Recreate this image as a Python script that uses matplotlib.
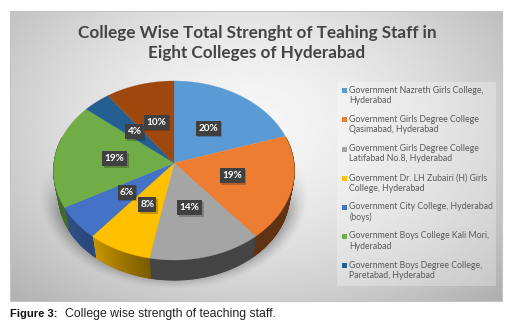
"""
College wise teaching staff pie, drawn as a tilted 3D disc.
Outputs: out.png
"""

import matplotlib
matplotlib.use("Agg")
import matplotlib.pyplot as plt
import numpy as np
from matplotlib.colors import to_rgb
from matplotlib.patches import Rectangle

# ── Data ─────────────────────────────────────────────────────────────────────
SHARES = [20, 19, 14, 8, 6, 19, 4, 10]
COLORS = ["#5b9bd5", "#ed7d31", "#a5a5a5", "#ffc000",
          "#4472c4", "#70ad47", "#255e91", "#9e480e"]
LEGEND_LABELS = [
    "Government Nazreth Girls College,\nHyderabad",
    "Government Girls Degree College\nQasimabad, Hyderabad",
    "Government Girls Degree College\nLatifabad No.8, Hyderabad",
    "Government Dr. LH Zubairi (H) Girls\nCollege, Hyderabad",
    "Government City College, Hyderabad\n(boys)",
    "Government Boys College Kali Mori,\nHyderabad",
    "Government Boys Degree College,\nParetabad, Hyderabad",
]
TITLE = "College Wise Total Strenght of Teahing Staff in\nEight Colleges of Hyderabad"
CAPTION_BOLD = "Figure 3:"
CAPTION = "College wise strength of teaching staff."

# ── Disc projection (pixels of the 510x329 picture) ──────────────────────────
CX, CY = 174, 163
RX, RY, TILT = 120, 88.9, 0.0838


def project(theta, r=1.0, dy=0.0, scale=1.0):
    u, v = r * np.sin(theta), r * np.cos(theta)
    w = 1 + TILT * v
    return CX + scale * RX * u / w, CY + dy - scale * RY * v / w


fig = plt.figure(figsize=(5.10, 3.29), dpi=100)
ax = fig.add_axes([0, 0, 1, 1])
ax.axis("off")

# ── Panel background ─────────────────────────────────────────────────────────
L, R, T, B = 10, 502, 11, 301
xx, yy = np.meshgrid(np.linspace(L, R, 300), np.linspace(T, B, 200))
dist = np.hypot((xx - 250) / 290, (yy - 125) / 210)
ax.imshow(0.965 - 0.21 * dist ** 1.6, extent=[L, R, B, T], cmap="gray",
          vmin=0, vmax=1, aspect="auto", zorder=0, interpolation="bilinear")
ax.add_patch(Rectangle((L, T), R - L, B - T, fill=False, ec="#c4c4c4", lw=0.8, zorder=1))

# ── Soft shadow under the disc ───────────────────────────────────────────────
sx, sy = np.meshgrid(np.linspace(30, 320, 290), np.linspace(150, 288, 138))
edge = np.hypot((sx - 174) / 130, (sy - 194) / 92)
alpha = np.clip((1.04 - edge) / 0.16, 0, 1) ** 1.3 * np.clip((sy - 165) / 50, 0, 1) * 0.36
shadow = np.zeros(sx.shape + (4,))
shadow[..., 3] = alpha
ax.imshow(shadow, extent=[30, 320, 288, 150], aspect="auto", zorder=2, interpolation="bilinear")
ax.set_xlim(0, 510)
ax.set_ylim(329, 0)

# ── Slices ───────────────────────────────────────────────────────────────────
edges = np.radians(np.cumsum([0] + SHARES) * 3.6)
WALL_START = [0.55, 0.40, 0.41, 0.48, 0.62, 0.60, 0.55, 0.55]
WALL_END = [0.55, 0.40, 0.41, 0.78, 0.70, 0.60, 0.55, 0.55]

for i, color in enumerate(COLORS):
    th = np.linspace(edges[i], edges[i + 1], 80)
    base = np.array(to_rgb(color))
    shade = np.linspace(WALL_START[i], WALL_END[i], 79)
    for a, b, s in zip(th[:-1], th[1:], shade):
        if np.cos((a + b) / 2) > 0.3:
            continue
        x0, y0 = project(np.array([a, b]))
        x1, y1 = project(np.array([b, a]), dy=24, scale=0.96)
        tone = base * s
        ax.fill(np.r_[x0, x1], np.r_[y0, y1], fc=tone, ec=tone, lw=0.6, zorder=3)

for i, color in enumerate(COLORS):
    th = np.linspace(edges[i], edges[i + 1], 80)
    x, y = project(th)
    ax.fill(np.r_[CX, x], np.r_[CY, y], color=color, lw=0.2, zorder=4)

# ── Percent labels ───────────────────────────────────────────────────────────
for i, share in enumerate(SHARES):
    mid = (edges[i] + edges[i + 1]) / 2
    lx, ly = project(mid, r=0.5)
    w = 25 if share >= 10 else 18
    ax.add_patch(Rectangle((lx - w / 2 + 1.5, ly - 6), w, 15, fc="black", alpha=0.22, lw=0, zorder=5))
    ax.add_patch(Rectangle((lx - w / 2, ly - 7.5), w, 15, fc="#404040", lw=0, zorder=6))
    ax.text(lx, ly, f"{share}%", color="white", fontsize=7.2, fontweight="bold",
            family="Lato", ha="center", va="center", zorder=7)

# ── Title ────────────────────────────────────────────────────────────────────
ax.text(257, 43, TITLE, color="#444444", fontsize=12.3, fontweight="bold", family="Lato",
        ha="center", va="center", linespacing=1.25, zorder=8)

# ── Legend ───────────────────────────────────────────────────────────────────
ax.add_patch(Rectangle((337, 82), 159, 204, fc="white", alpha=0.28, lw=0, zorder=3))
for i, label in enumerate(LEGEND_LABELS):
    y = 90.7 + i * 29.15
    ax.add_patch(Rectangle((341.7, y - 2.5), 5, 5, fc=COLORS[i], lw=0, zorder=8))
    ax.text(349.5, y - 5, label, color="#595959", fontsize=6.3, family="Lato",
            ha="left", va="top", linespacing=1.2, zorder=8)

# ── Caption ──────────────────────────────────────────────────────────────────
ax.text(10, 314, CAPTION_BOLD, color="#111111", fontsize=8.1, fontweight="bold",
        family="Liberation Sans", ha="left", va="center")
ax.text(65.5, 314, CAPTION, color="#222222", fontsize=8.85,
        family="Liberation Sans", ha="left", va="center")

fig.savefig("out.png", dpi=100)
